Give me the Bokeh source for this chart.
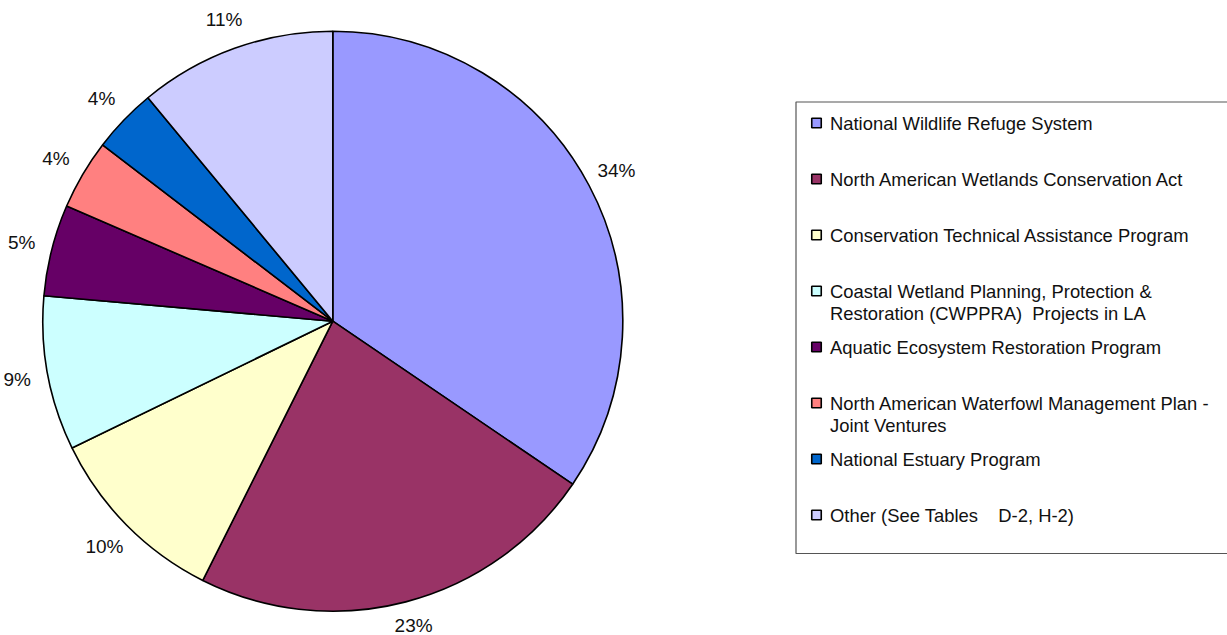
import math
from bokeh.plotting import figure
from bokeh.models import Range1d, ColumnDataSource
from bokeh.core.properties import value
from bokeh.embed import file_html
from bokeh.resources import INLINE

# ---- data ----
NB = "\u00a0"
categories = [
    "National Wildlife Refuge System",
    "North American Wetlands Conservation Act",
    "Conservation Technical Assistance Program",
    "Coastal Wetland Planning, Protection &\nRestoration (CWPPRA)" + NB * 2 + "Projects in LA",
    "Aquatic Ecosystem Restoration Program",
    "North American Waterfowl Management Plan -\nJoint Ventures",
    "National Estuary Program",
    "Other (See Tables" + NB * 4 + "D-2, H-2)",
]
shares = [34.5, 22.9, 10.4, 8.6, 5.1, 3.9, 3.6, 11.0]
pct_labels = ["34%", "23%", "10%", "9%", "5%", "4%", "4%", "11%"]
colors = ["#9999FF", "#993366", "#FFFFCC", "#CCFFFF", "#660066", "#FF8080", "#0066CC", "#CCCCFF"]

# ---- layout constants (pixel-like data space; y = -image_y) ----
W, H = 1227, 635
cx, cy = 332.3, -320.7
R = 290.0
R_LABEL = 321.0
FONT = value("Liberation Sans")

p = figure(width=W, height=H, output_backend="svg", toolbar_location=None,
           x_range=Range1d(0, W), y_range=Range1d(-H, 0),
           min_border=0, min_border_left=0, min_border_right=0,
           min_border_top=0, min_border_bottom=0)
p.axis.visible = False
p.grid.visible = False
p.outline_line_color = None
p.background_fill_color = "white"
p.border_fill_color = "white"

total = sum(shares)
starts, ends, lx, ly = [], [], [], []
cum = 0.0
for s in shares:
    a0 = math.pi / 2 - 2 * math.pi * cum / total
    cum += s
    a1 = math.pi / 2 - 2 * math.pi * cum / total
    starts.append(a1)
    ends.append(a0)
    mid = (a0 + a1) / 2
    lx.append(cx + R_LABEL * math.cos(mid))
    # keep labels inside the canvas
    ly.append(max(cy + R_LABEL * math.sin(mid), -H + 10.5))

src = ColumnDataSource(dict(start=starts, end=ends, color=colors,
                            lx=lx, ly=ly, lab=pct_labels))
p.wedge(x=cx, y=cy, radius=R, start_angle="start", end_angle="end",
        direction="anticlock", fill_color="color", line_color="black",
        line_width=1.6, source=src)
p.text(x="lx", y="ly", text="lab", source=src, text_font=FONT,
       text_font_size="19px", text_color="#111111",
       text_align="center", text_baseline="middle")

# ---- legend ----
leg_left, leg_top, leg_bottom = 795.5, -101.5, -553.0
p.quad(left=leg_left, right=1260, top=leg_top, bottom=leg_bottom,
       fill_color="white", line_color="#555555", line_width=1.2)

y0, step, line_gap = -122.5, -56.0, -22.5
sq_x, txt_x = 816.0, 829.5
tx, ty, tt = [], [], []
sqy = []
for i, cat in enumerate(categories):
    yi = y0 + step * i
    sqy.append(yi)
    for k, line in enumerate(cat.split("\n")):
        tx.append(txt_x)
        ty.append(yi + line_gap * k)
        tt.append(line)

p.rect(x=[sq_x] * len(categories), y=sqy, width=9.5, height=9.5,
       fill_color=colors, line_color="black", line_width=1.6)
p.text(x=tx, y=ty, text=tt, text_font=FONT, text_font_size="18.4px",
       text_color="#111111", text_align="left", text_baseline="middle")

open("out.html", "w").write(file_html(p, INLINE))
